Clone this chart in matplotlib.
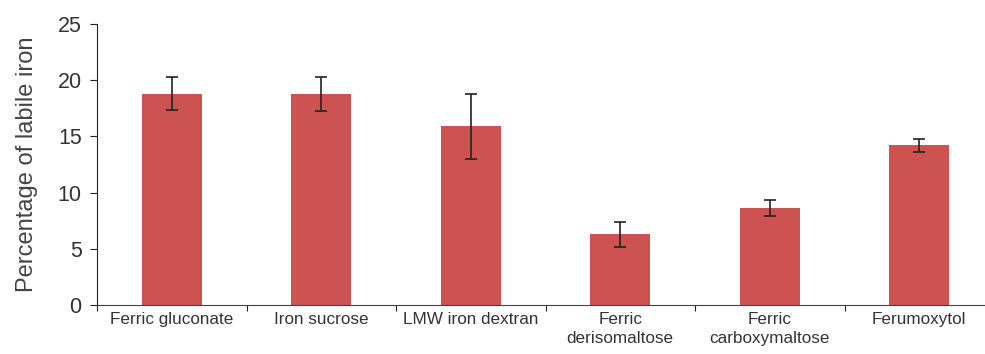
import matplotlib
matplotlib.use('Agg')
import matplotlib.pyplot as plt

categories = ['Ferric gluconate', 'Iron sucrose', 'LMW iron dextran',
              'Ferric\nderisomaltose', 'Ferric\ncarboxymaltose', 'Ferumoxytol']
values = [18.8, 18.8, 15.9, 6.3, 8.6, 14.2]
errors = [1.45, 1.5, 2.9, 1.1, 0.7, 0.55]

plt.rcParams['font.family'] = ['Liberation Sans', 'DejaVu Sans']

fig = plt.figure(figsize=(9.85, 3.54), dpi=100)
ax = fig.add_axes([97/985, 49/354, 897/985, 281/354])

x = range(len(categories))
ax.bar(x, values, width=0.4, color='#cd5252', zorder=2)
ax.errorbar(x, values, yerr=errors, fmt='none', ecolor='#222222',
            elinewidth=1.2, capsize=4, capthick=1.2, zorder=3)

ax.set_xlim(-0.5, len(categories) - 0.5)
ax.set_ylim(0, 25)
ax.set_yticks([0, 5, 10, 15, 20, 25])
ax.tick_params(axis='y', labelsize=15.5, length=5, pad=6, colors='#222222',
               labelcolor='#333333')
ax.set_xticks([i - 0.5 for i in range(len(categories) + 1)])
ax.set_xticklabels([])
ax.set_xticks(list(x), minor=True)
ax.set_xticklabels(categories, minor=True, fontsize=12.3, va='top', linespacing=1.3,
                   color='#333333')
ax.tick_params(axis='x', which='major', length=4, colors='#222222')
ax.tick_params(axis='x', which='minor', length=0, pad=5)
ax.set_ylabel('Percentage of labile iron', fontsize=17, color='#444444', labelpad=14)

for s in ['top', 'right']:
    ax.spines[s].set_visible(False)
ax.spines['left'].set_color('#222222')
ax.spines['bottom'].set_color('#444444')

fig.savefig('out.png', dpi=100)
